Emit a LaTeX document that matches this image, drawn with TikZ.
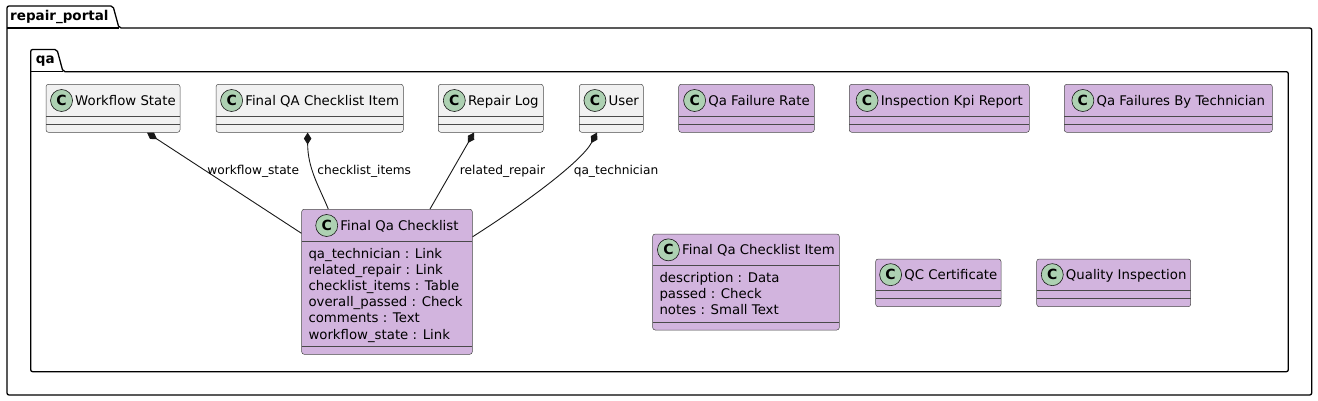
\documentclass[tikz,border=0pt]{standalone}
\usepackage{fontspec}
\setmainfont{DejaVu Sans}
\usetikzlibrary{arrows.meta,calc}
\definecolor{clsgrey}{HTML}{F1F1F1}
\definecolor{clspurple}{HTML}{D2B4DE}
\definecolor{circgreen}{HTML}{ADD1B2}
\definecolor{ink}{HTML}{181818}
\definecolor{clsborder}{HTML}{4A4A4A}
\tikzset{
  clsbox/.style={draw=clsborder, line width=0.5pt, rounded corners=2.5pt, inner sep=0pt},
  clsline/.style={draw=clsborder, line width=0.5pt},
  clstitle/.style={anchor=base, inner sep=0pt, font=\fontsize{13.3}{16}\selectfont},
  clscirc/.style={circle, draw=ink, line width=0.6pt, fill=circgreen, minimum size=22pt, inner sep=0pt, font=\fontsize{14}{16}\selectfont\bfseries},
  attr/.style={anchor=base west, inner sep=0pt, font=\fontsize{13.3}{16}\selectfont},
  elabel/.style={anchor=base, inner sep=0pt, font=\fontsize{12.2}{14}\selectfont},
  pkg/.style={draw=black, line width=1.3pt, rounded corners=2pt},
  pkgname/.style={anchor=base west, inner sep=0pt, font=\fontsize{13.5}{16}\selectfont\bfseries},
  comp/.style={draw=ink, line width=0.9pt, {Diamond[length=12pt,width=7.5pt,fill=ink]}-},
}
% name, left, top, right, bottom, fill, title, line1, line2
\newcommand\umlcls[9]{%
  \node[clsbox, fill=#6, minimum width={(#4-#2)*1pt}, minimum height={(#5-#3)*1pt}] (#1) at ({(#2+#4)/2},{(#3+#5)/2}) {};
  \draw[clsline] (#2,#8) -- (#4,#8) (#2,#9) -- (#4,#9);
  \node[clstitle] (#1-t) at ({(#2+#4)/2+12.5},{(#3+#8)/2+4.8}) {#7};
  \node[clscirc] (#1-c) at ([xshift=-13.5pt,yshift=4.8pt]#1-t.base west) {C};
}
\begin{document}
\begin{tikzpicture}[x=1pt,y=-1pt]
\useasboundingbox (0,0) rectangle (1318,401);
% packages
\draw[pkg] (7,395) -- (7,6) -- (113,6) -- (119,28) -- (1311.7,28) -- (1311.7,395) -- cycle;
\draw[line width=1.3pt] (7,28) -- (119,28);
\node[pkgname] (pkgrp) at (10,20.3) {repair\_portal};
\draw[pkg] (30.7,371.7) -- (30.7,49.5) -- (57,49.5) -- (63,71.7) -- (1288.3,71.7) -- (1288.3,371.7) -- cycle;
\draw[line width=1.3pt] (30.7,71.7) -- (63,71.7);
\node[pkgname] (pkgqa) at (35.7,63.3) {qa};
% top row classes
\umlcls{ws}{46}{84.3}{180}{132.3}{clsgrey}{Workflow State}{116.7}{124.3}
\umlcls{fqci}{216}{84.3}{403.3}{132.3}{clsgrey}{Final QA Checklist Item}{116.7}{124.3}
\umlcls{rl}{438.3}{84.3}{543.3}{132.3}{clsgrey}{Repair Log}{116.7}{124.3}
\umlcls{user}{579.3}{84.3}{643.3}{132.3}{clsgrey}{User}{116.7}{124.3}
\umlcls{qfr}{678.7}{84.3}{814.3}{132.3}{clspurple}{Qa Failure Rate}{116.7}{124.3}
\umlcls{ikr}{849.3}{84.3}{1029.3}{132.3}{clspurple}{Inspection Kpi Report}{116.7}{124.3}
\umlcls{qfbt}{1064.3}{84.3}{1272.3}{132.3}{clspurple}{Qa Failures By Technician}{116.7}{124.3}
% lower classes
\umlcls{fqc}{301.7}{209.3}{472.3}{354.3}{clspurple}{Final Qa Checklist}{241.7}{346}
\node[attr] (fqc-a1) at (308.3,258.1) {qa\_technician : Link};
\node[attr] (fqc-a2) at (308.3,274.3) {related\_repair : Link};
\node[attr] (fqc-a3) at (308.3,290.5) {checklist\_items : Table};
\node[attr] (fqc-a4) at (308.3,306.7) {overall\_passed : Check};
\node[attr] (fqc-a5) at (308.3,322.9) {comments : Text};
\node[attr] (fqc-a6) at (308.3,339.1) {workflow\_state : Link};
\umlcls{fqcit}{652.7}{234}{839.3}{330}{clspurple}{Final Qa Checklist Item}{265.7}{322.3}
\node[attr] (fqcit-a1) at (659.3,282.1) {description : Data};
\node[attr] (fqcit-a2) at (659.3,298.4) {passed : Check};
\node[attr] (fqcit-a3) at (659.3,314.7) {notes : Small Text};
\umlcls{qcc}{875.7}{259}{1001}{306.7}{clspurple}{QC Certificate}{290.3}{298.7}
\umlcls{qi}{1036.7}{259}{1190.7}{306.7}{clspurple}{Quality Inspection}{290.3}{298.7}
% connectors
\draw[comp] ([xshift=34pt]ws.south) -- ([yshift=48.5pt]fqc.west);
\draw[comp] ([xshift=-2pt]fqci.south) .. controls +(0,36) and +(-9,-22) .. ([xshift=-58.7pt]fqc.north);
\draw[comp] ([xshift=-16.8pt]rl.south) -- ([xshift=43pt]fqc.north);
\draw[comp] ([xshift=-14.3pt]user.south) .. controls +(-15,28) and +(58,-37) .. ([yshift=45pt]fqc.east);
% edge labels
\node[elabel] (l1) at (253.2,174.5) {workflow\_state};
\node[elabel] (l2) at (364.2,174.5) {checklist\_items};
\node[elabel] (l3) at (502.5,174.5) {related\_repair};
\node[elabel] (l4) at (616,174.5) {qa\_technician};
\end{tikzpicture}
\end{document}
